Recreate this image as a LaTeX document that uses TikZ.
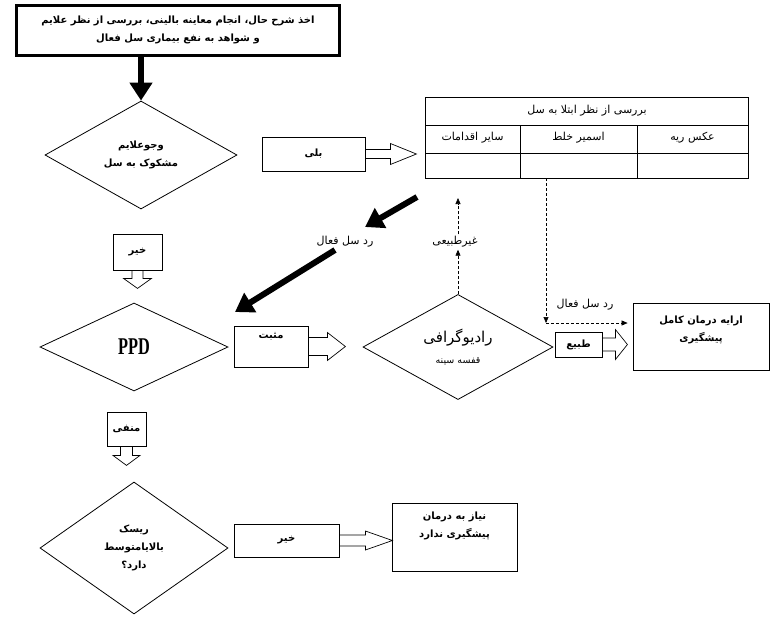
\documentclass[tikz,border=0pt]{standalone}
\usepackage{fontspec}
\usetikzlibrary{shapes.geometric,arrows.meta,calc}
\TeXXeTstate=1
\newfontfamily\arabicfont[Script=Arabic]{DejaVu Sans}
\newfontfamily\ppdfont{Liberation Serif}
\newcommand{\fa}[1]{{\arabicfont\beginR #1\endR}}
% hollow block arrows: node, shaft half, shaft length, head half, head length
\newcommand{\hollowright}[5]{\draw[line width=0.7pt] ($(#1.east)+(0,-#2)$) -- ++(#3,0) -- ++(0,{-(#4-#2)}) -- ++(#5,#4) -- ++({-#5},#4) -- ++(0,{-(#4-#2)}) -- ++({-#3},0);}
\newcommand{\hollowdown}[5]{\draw[line width=0.7pt] ($(#1.south)+(-#2,0)$) -- ++(0,#3) -- ++({-(#4-#2)},0) -- ++(#4,#5) -- ++(#4,{-#5}) -- ++({-(#4-#2)},0) -- ++(0,{-#3});}

\begin{document}
\begin{tikzpicture}[x=1pt,y=-1pt,
    box/.style={draw, line width=0.8pt, inner sep=0pt, align=center,
      font=\bfseries\fontsize{10}{18}\selectfont},
    boxtext/.style={inner sep=0pt, align=center, font=\bfseries\fontsize{10}{18}\selectfont},
    decision/.style={draw, line width=0.8pt, diamond, inner sep=0pt, align=center,
      font=\bfseries\fontsize{10}{18}\selectfont},
    cell/.style={inner sep=1pt, font=\fontsize{11}{12}\selectfont},
    lbl/.style={inner sep=2pt, font=\fontsize{11}{12}\selectfont},
    thickarrow/.style={line width=6pt, -{Triangle[length=18pt,width=22pt]}},
    dasharrow/.style={line width=0.6pt, dash pattern=on 3pt off 2pt, -{Triangle[length=6pt,width=5pt]}}]
  \useasboundingbox (0,0) rectangle (774,630);

  \node[box, line width=3pt, minimum width=323pt, minimum height=50pt] (hist) at (178,30)
    {\fa{اخذ شرح حال، انجام معاینه بالینی، بررسی از نظر علایم}\\\fa{و شواهد به نفع بیماری سل فعال}};
  \node[decision, minimum width=192pt, minimum height=108pt] (sympt) at (141,155)
    {\fa{وجوعلایم}\\\fa{مشکوک به سل}};
  \draw[thickarrow] (hist.south -| sympt.north) -- (sympt.north);

  % yes branch and table
  \node[box, minimum width=103pt, minimum height=34pt] (yes) at (313.5,154) {\fa{بلی}};
  \hollowright{yes}{4.5}{25}{10.5}{26}
  \node[draw, line width=0.6pt, minimum width=323pt, minimum height=81pt, inner sep=0pt] (tbl) at (586.5,137.5) {};
  \draw[line width=0.6pt] (425,125) -- (748,125);
  \draw[line width=0.6pt] (425,153) -- (748,153);
  \draw[line width=0.6pt] (520,125) -- (520,178);
  \draw[line width=0.6pt] (637,125) -- (637,178);
  \node[cell] (tblhead) at (587,111) {\fa{بررسی از نظر ابتلا به سل}};
  \node[cell] (colother) at (472.5,138) {\fa{سایر اقدامات}};
  \node[cell] (colsmear) at (578.5,138) {\fa{اسمیر خلط}};
  \node[cell] (colxray) at (692.5,138) {\fa{عکس ریه}};

  % rule out active disease
  \coordinate (rulea) at (417,197);
  \coordinate (ruleb) at (365,227);
  \coordinate (rulec) at (335,250);
  \coordinate (ruled) at (235,312);
  \node[lbl] (rule1) at (345,242) {\fa{رد سل فعال}};
  \draw[thickarrow] (rulea) -- (ruleb);
  \draw[thickarrow] (rulec) -- (ruled);

  % no branch
  \node[box, minimum width=49pt, minimum height=36pt] (no1) at (137.5,252) {\fa{خیر}};
  \hollowdown{no1}{5.5}{8}{14}{10}

  \node[decision, minimum width=188pt, minimum height=88pt] (ppd) at (134,347)
    {\ppdfont\bfseries\scalebox{0.68}[1]{\fontsize{24}{24}\selectfont PPD}};
  \node[box, minimum width=74pt, minimum height=41pt] (pos) at (271,346.5) {};
  \node[boxtext, anchor=north] (postext) at ([yshift=-7pt]pos.north) {\fa{مثبت}};
  \hollowright{pos}{9}{19}{14}{18}

  \node[decision, minimum width=190pt, minimum height=100pt] (xray) at (458,347)
    {{\fontsize{15}{25}\selectfont\mdseries\fa{رادیوگرافی}}\\[3pt]{\fontsize{9.5}{12}\selectfont\mdseries\fa{قفسه سینه}}};
  \node[lbl] (abn) at (455,242) {\fa{غیرطبیعی}};
  \coordinate (abntip) at (458,198);
  \draw[dasharrow] (xray.north) -- (xray.north |- abn.south);
  \draw[dasharrow] (xray.north |- abn.north) -- (xray.north |- abntip);

  \node[box, minimum width=47pt, minimum height=25pt] (norm) at (578.5,344.5) {\fa{طبیع}};
  \hollowright{norm}{6.5}{13}{15}{12}
  \node[box, minimum width=136pt, minimum height=67pt] (full) at (701,336.5) {};
  \node[boxtext, anchor=north] (fulltext) at ([yshift=-13pt]full.north) {\fa{ارایه درمان کامل}\\\fa{پیشگیری}};
  \coordinate (rulebend) at (546,323);
  \node[lbl] (rule2) at (585,305) {\fa{رد سل فعال}};
  \draw[dasharrow] (tbl.south -| rulebend) -- (rulebend);
  \draw[dasharrow, shorten >=5pt] (rulebend) -- (full.west |- rulebend);

  % negative PPD
  \node[box, minimum width=39pt, minimum height=34pt] (neg) at (126.5,429) {\fa{منفی}};
  \hollowdown{neg}{6}{9}{13.5}{10}
  \node[decision, minimum width=188pt, minimum height=132pt] (risk) at (134,548)
    {\fa{ریسک}\\\fa{بالایامتوسط}\\\fa{دارد؟}};
  \node[box, minimum width=105pt, minimum height=33pt] (no2) at (286.5,540.5) {\fa{خیر}};
  \hollowright{no2}{5.5}{26}{9.5}{27}
  \node[box, minimum width=125pt, minimum height=68pt] (need) at (454.5,537) {};
  \node[boxtext, anchor=north] (needtext) at ([yshift=-9pt]need.north) {\fa{نیاز به درمان}\\\fa{پیشگیری ندارد}};
\end{tikzpicture}
\end{document}
